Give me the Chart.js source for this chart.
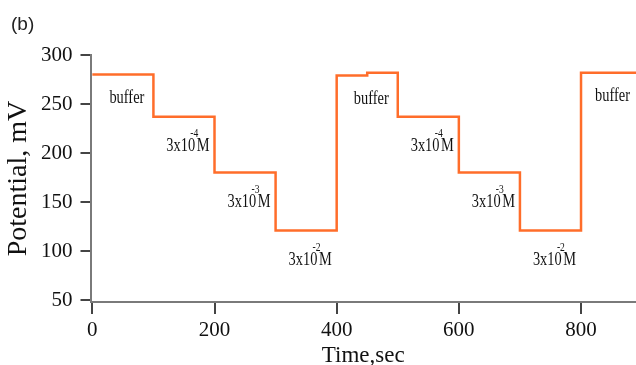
<!DOCTYPE html>
<html>
<head>
<meta charset="utf-8">
<script src="https://cdn.jsdelivr.net/npm/chart.js@4.4.1/dist/chart.umd.min.js"></script>
<style>
  html, body { margin: 0; padding: 0; background: #fff; }
  #wrap { width: 636px; height: 365px; position: relative; }
</style>
</head>
<body>
<div id="wrap"><canvas id="potChart"></canvas></div>
<script>
// time (sec) where each potential level starts, and the level (mV)
const stepTimes = [0, 100, 200, 300, 400, 450, 500, 600, 700, 800, 890];
const potentials = [280, 237, 180, 121, 279, 282, 237, 180, 121, 282, 282];

// one label per plateau
const plateauStart = [0, 100, 200, 300, 400, 500, 600, 700, 800];
const plateauEnd = [100, 200, 300, 400, 500, 600, 700, 800, 890];
const plateauLevel = [280, 237, 180, 121, 279, 237, 180, 121, 282];
const plateauText = ['buffer', '3x10', '3x10', '3x10', 'buffer', '3x10', '3x10', '3x10', 'buffer'];
const plateauExp = ['', '-4', '-3', '-2', '', '-4', '-3', '-2', ''];

const xTicks = [0, 200, 400, 600, 800];
const yTicks = [50, 100, 150, 200, 250, 300];

const serif = '"Liberation Serif", "Times New Roman", serif';

// panel letter + buffer / concentration text under each plateau
const plateauLabels = {
    id: 'plateauLabels',
    afterDatasetsDraw(chart) {
        const {ctx, scales: {x, y}} = chart;
        ctx.save();
        ctx.fillStyle = '#222';
        ctx.textBaseline = 'middle';
        ctx.textAlign = 'left';
        ctx.font = '19px "Liberation Sans", Arial, sans-serif';
        ctx.fillText('(b)', 11, 25);

        ctx.fillStyle = '#111';
        plateauText.forEach((txt, i) => {
            const conc = plateauExp[i] !== '';
            const cx = (x.getPixelForValue(plateauStart[i]) + x.getPixelForValue(plateauEnd[i])) / 2 + 4;
            const cy = y.getPixelForValue(plateauLevel[i]) + (conc ? 30 : 24);
            ctx.save();
            ctx.translate(cx, cy);
            ctx.scale(0.8, 1);
            ctx.font = '18px ' + serif;
            if (!conc) {
                ctx.textAlign = 'center';
                ctx.fillText(txt, 0, 0);
            } else {
                ctx.textAlign = 'left';
                const w1 = ctx.measureText(txt).width;
                const wM = ctx.measureText('M').width;
                const x0 = -(w1 + 2 + wM) / 2;
                ctx.fillText(txt, x0, 0);
                ctx.fillText('M', x0 + w1 + 2, 0);
                ctx.font = '12px ' + serif;
                ctx.fillText(plateauExp[i], x0 + w1 - 6, -13);
            }
            ctx.restore();
        });
        ctx.restore();
    }
};

new Chart(document.getElementById('potChart'), {
    type: 'line',
    data: {
        datasets: [{
            data: stepTimes.map((t, i) => ({x: t, y: potentials[i]})),
            borderColor: '#ff6d2a',
            borderWidth: 2.5,
            stepped: true,
            pointRadius: 0,
            fill: false
        }]
    },
    options: {
        responsive: true,
        maintainAspectRatio: false,
        animation: false,
        layout: {padding: {left: 5, right: 0, top: 55, bottom: 0}},
        plugins: {
            legend: {display: false},
            tooltip: {enabled: false}
        },
        scales: {
            x: {
                type: 'linear',
                min: -3,
                max: 890,
                afterBuildTicks: (s) => { s.ticks = xTicks.map(v => ({value: v})); },
                border: {color: '#7a7a7a', width: 2},
                grid: {drawOnChartArea: false, tickLength: 12, color: '#444', lineWidth: 2},
                ticks: {color: '#111', padding: 6, font: {family: serif, size: 21, lineHeight: 1}},
                title: {
                    display: true,
                    text: 'Time,sec',
                    color: '#111',
                    font: {family: serif, size: 23, lineHeight: 0.74},
                    padding: {top: 0, bottom: 1}
                }
            },
            y: {
                min: 48,
                max: 300,
                afterBuildTicks: (s) => { s.ticks = yTicks.map(v => ({value: v})); },
                border: {color: '#7a7a7a', width: 2},
                grid: {drawOnChartArea: false, tickLength: 10, color: '#444', lineWidth: 2},
                ticks: {color: '#111', padding: 8, font: {family: serif, size: 21, lineHeight: 1}},
                title: {
                    display: true,
                    text: 'Potential, mV',
                    color: '#111',
                    font: {family: serif, size: 28, lineHeight: 1},
                    padding: {top: 0, bottom: 0}
                }
            }
        }
    },
    plugins: [plateauLabels]
});
</script>
</body>
</html>
